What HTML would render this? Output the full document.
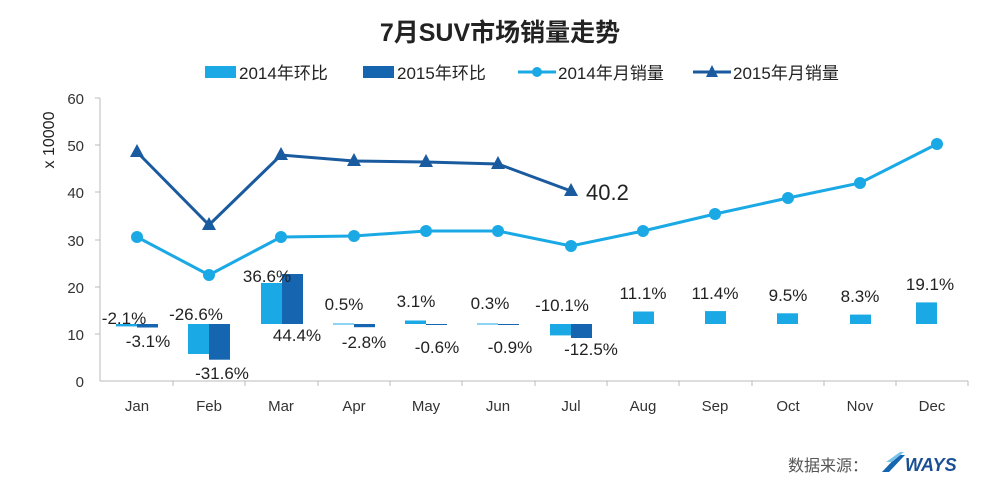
<!DOCTYPE html>
<html><head><meta charset="utf-8"><style>
body{margin:0;background:#fff;}
svg{display:block;font-family:"Liberation Sans","Noto Sans CJK SC",sans-serif;}
</style></head><body>
<svg width="1000" height="488" viewBox="0 0 1000 488">
<text x="500" y="41" font-size="25" font-weight="bold" text-anchor="middle" fill="#222">7月SUV市场销量走势</text>
<!-- legend -->
<rect x="205" y="66" width="31" height="12" fill="#1aa9e4"/>
<text x="239" y="79" font-size="17" fill="#222">2014年环比</text>
<rect x="363" y="66" width="31" height="12" fill="#1565b0"/>
<text x="397" y="79" font-size="17" fill="#222">2015年环比</text>
<line x1="518" y1="72" x2="556" y2="72" stroke="#1aa9e4" stroke-width="3"/><circle cx="537" cy="72" r="5" fill="#1aa9e4"/>
<text x="558" y="79" font-size="17" fill="#222">2014年月销量</text>
<line x1="693" y1="72" x2="731" y2="72" stroke="#1a5a9e" stroke-width="3"/><polygon points="712,65 718,77 706,77" fill="#1a5a9e"/>
<text x="733" y="79" font-size="17" fill="#222">2015年月销量</text>
<!-- axes -->
<g stroke="#bbb" stroke-width="1">
<line x1="100" y1="98" x2="100" y2="381"/>
<line x1="100" y1="381" x2="968" y2="381"/>
<line x1="95" y1="98" x2="100" y2="98"/><line x1="95" y1="145" x2="100" y2="145"/><line x1="95" y1="192" x2="100" y2="192"/><line x1="95" y1="240" x2="100" y2="240"/><line x1="95" y1="287" x2="100" y2="287"/><line x1="95" y1="334" x2="100" y2="334"/>
<line x1="173" y1="381" x2="173" y2="386"/><line x1="245" y1="381" x2="245" y2="386"/><line x1="318" y1="381" x2="318" y2="386"/><line x1="390" y1="381" x2="390" y2="386"/><line x1="462" y1="381" x2="462" y2="386"/><line x1="535" y1="381" x2="535" y2="386"/><line x1="607" y1="381" x2="607" y2="386"/><line x1="679" y1="381" x2="679" y2="386"/><line x1="752" y1="381" x2="752" y2="386"/><line x1="824" y1="381" x2="824" y2="386"/><line x1="896" y1="381" x2="896" y2="386"/><line x1="968" y1="381" x2="968" y2="386"/>
</g>
<g font-size="15" fill="#333" text-anchor="end">
<text x="84" y="104">60</text><text x="84" y="151">50</text><text x="84" y="198">40</text><text x="84" y="246">30</text><text x="84" y="293">20</text><text x="84" y="340">10</text><text x="84" y="387">0</text>
</g>
<text transform="translate(54,140) rotate(-90)" font-size="16" fill="#222" text-anchor="middle">x 10000</text>
<g font-size="15" fill="#333" text-anchor="middle">
<text x="137" y="411">Jan</text><text x="209" y="411">Feb</text><text x="281" y="411">Mar</text><text x="354" y="411">Apr</text><text x="426" y="411">May</text><text x="498" y="411">Jun</text><text x="571" y="411">Jul</text><text x="643" y="411">Aug</text><text x="715" y="411">Sep</text><text x="788" y="411">Oct</text><text x="860" y="411">Nov</text><text x="932" y="411">Dec</text>
</g>
<!-- bars -->
<g fill="#1aa9e4">
<rect x="116" y="324" width="21" height="2.4"/>
<rect x="188" y="324" width="21" height="30"/>
<rect x="261" y="283" width="21" height="41"/>
<rect x="333" y="323.5" width="21" height="1"/>
<rect x="405" y="320.5" width="21" height="3.5"/>
<rect x="477" y="323.5" width="21" height="1"/>
<rect x="550" y="324" width="21" height="11.4"/>
<rect x="633" y="311.5" width="21" height="12.5"/>
<rect x="705" y="311.1" width="21" height="12.9"/>
<rect x="777" y="313.3" width="21" height="10.7"/>
<rect x="850" y="314.6" width="21" height="9.4"/>
<rect x="916" y="302.4" width="21" height="21.6"/>
</g>
<g fill="#1565b0">
<rect x="137" y="324" width="21" height="3.5"/>
<rect x="209" y="324" width="21" height="35.7"/>
<rect x="282" y="274" width="21" height="50"/>
<rect x="354" y="324" width="21" height="3.2"/>
<rect x="426" y="324" width="21" height="1"/>
<rect x="498" y="324" width="21" height="1"/>
<rect x="571" y="324" width="21" height="14"/>
</g>
<!-- lines -->
<polyline fill="none" stroke="#1aa9e4" stroke-width="3" points="137,237 209,275 281,237 354,236 426,231 498,231 571,246 643,231 715,214 788,198 860,183 937,144"/>
<g fill="#1aa9e4">
<circle cx="137" cy="237" r="6"/><circle cx="209" cy="275" r="6"/><circle cx="281" cy="237" r="6"/><circle cx="354" cy="236" r="6"/><circle cx="426" cy="231" r="6"/><circle cx="498" cy="231" r="6"/><circle cx="571" cy="246" r="6"/><circle cx="643" cy="231" r="6"/><circle cx="715" cy="214" r="6"/><circle cx="788" cy="198" r="6"/><circle cx="860" cy="183" r="6"/><circle cx="937" cy="144" r="6"/>
</g>
<polyline fill="none" stroke="#1a5a9e" stroke-width="3" points="137,152 209,225 281,155 354,161 426,162 498,164 571,191"/>
<g fill="#1a5a9e">
<polygon points="137,144 144,157 130,157"/><polygon points="209,217 216,230 202,230"/><polygon points="281,147 288,160 274,160"/><polygon points="354,153 361,166 347,166"/><polygon points="426,154 433,167 419,167"/><polygon points="498,156 505,169 491,169"/><polygon points="571,183 578,196 564,196"/>
</g>
<text x="586" y="200" font-size="22" fill="#222">40.2</text>
<!-- bar labels -->
<g font-size="17" fill="#222" text-anchor="middle">
<text x="124" y="324">-2.1%</text><text x="148" y="347">-3.1%</text>
<text x="196" y="320">-26.6%</text><text x="222" y="379">-31.6%</text>
<text x="267" y="282">36.6%</text><text x="297" y="341">44.4%</text>
<text x="344" y="310">0.5%</text><text x="364" y="348">-2.8%</text>
<text x="416" y="307">3.1%</text><text x="437" y="353">-0.6%</text>
<text x="490" y="309">0.3%</text><text x="510" y="353">-0.9%</text>
<text x="562" y="311">-10.1%</text><text x="591" y="355">-12.5%</text>
<text x="643" y="299">11.1%</text><text x="715" y="299">11.4%</text><text x="788" y="301">9.5%</text><text x="860" y="302">8.3%</text><text x="930" y="290">19.1%</text>
</g>
<!-- footer -->
<text x="788" y="471" font-size="16" fill="#555">数据来源：</text>
<polygon points="882,472 898,455 905,455 889,472" fill="#1565b0"/>
<polygon points="886,462 900,452 904,452 892,462" fill="#7cc3ea"/>
<text x="905" y="471" font-size="18" font-weight="bold" fill="#1a4f95" font-style="italic">WAYS</text>
</svg>
</body></html>
